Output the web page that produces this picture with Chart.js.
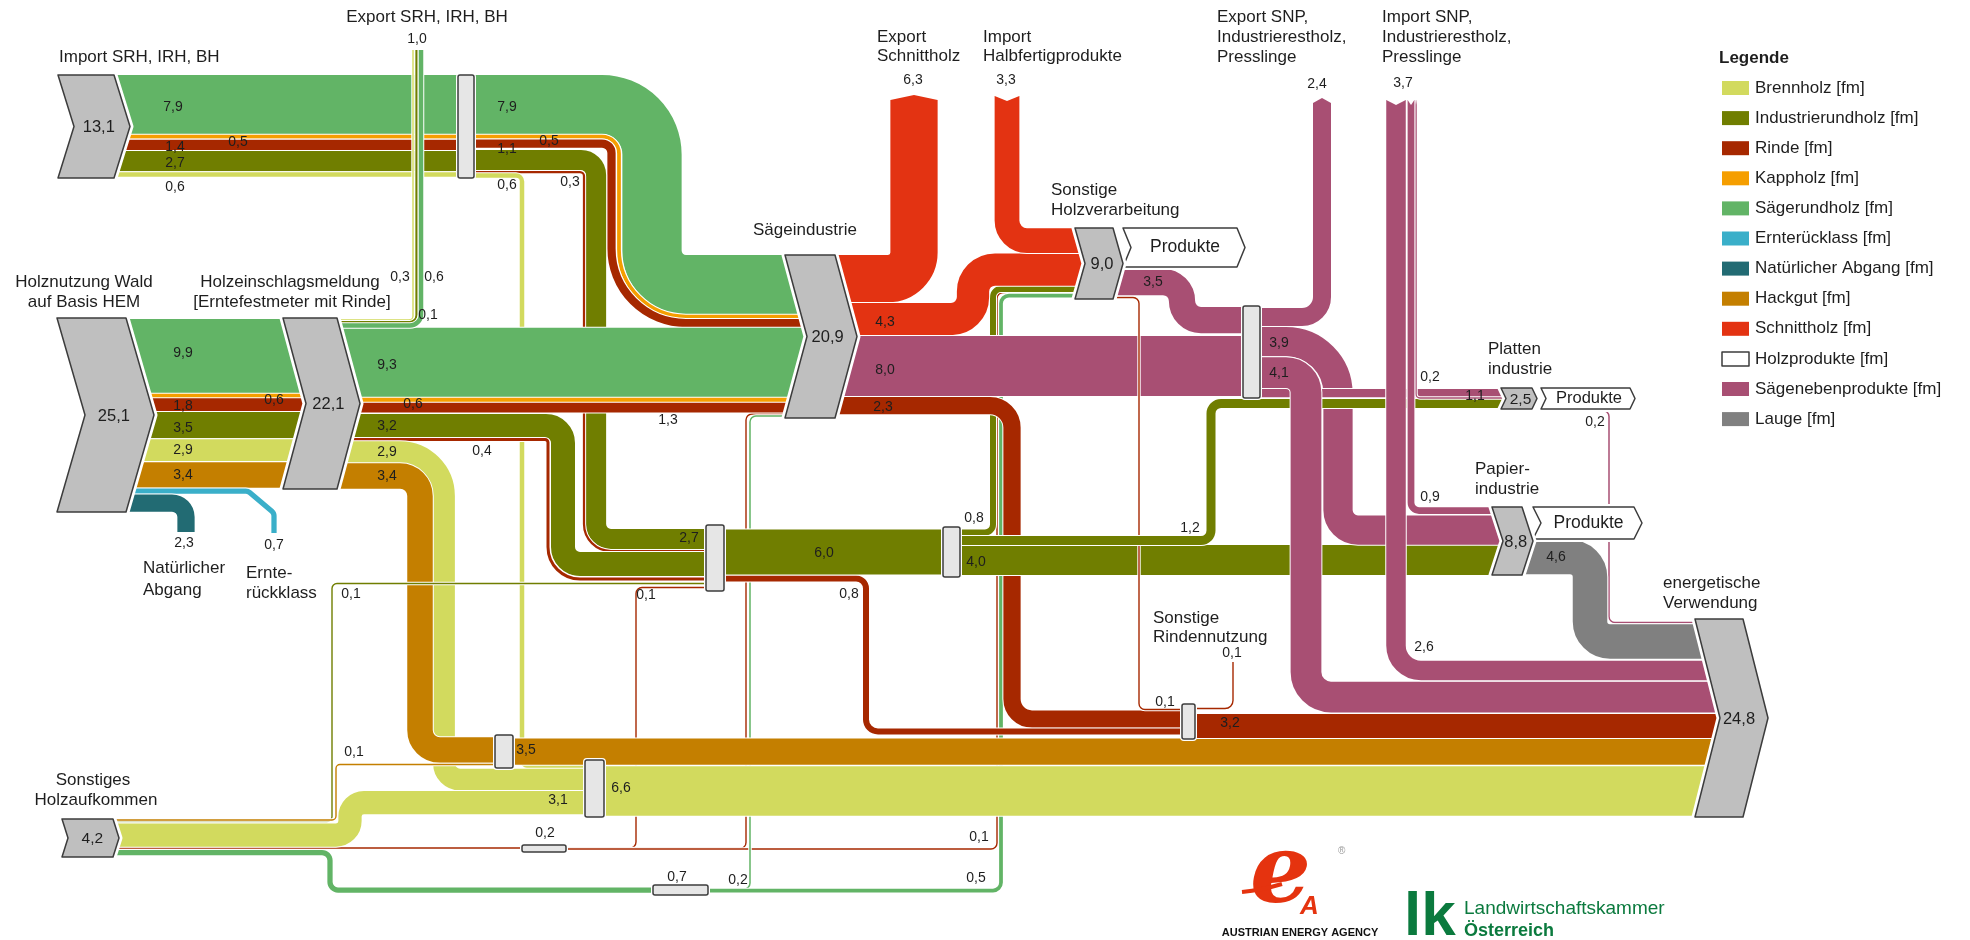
<!DOCTYPE html>
<html lang="de">
<head>
<meta charset="utf-8">
<title>Holzströme Österreich</title>
<script src="https://cdn.jsdelivr.net/npm/chart.js@4.4.1/dist/chart.umd.min.js"></script>
<style>
  html, body { margin: 0; padding: 0; background: #fff; }
  #wrap { position: relative; width: 1970px; height: 940px; }
</style>
</head>
<body>
<div id="wrap"><canvas id="holzfluss"></canvas></div>
<script>
// Legende: Sortimente und Farben
const categories = ['Brennholz [fm]', 'Industrierundholz [fm]', 'Rinde [fm]', 'Kappholz [fm]',
  'Sägerundholz [fm]', 'Ernterücklass [fm]', 'Natürlicher Abgang [fm]', 'Hackgut [fm]',
  'Schnittholz [fm]', 'Holzprodukte [fm]', 'Sägenebenprodukte [fm]', 'Lauge [fm]'];
const catColors = ['#D2DA5E', '#707E00', '#A62800', '#F59E00', '#62B466', '#3AAFC9',
  '#226B73', '#C47F00', '#E33312', '#FFFFFF', '#A84F73', '#808080'];

// Knoten (Mio. fm)
const nodeNames = ['Import SRH, IRH, BH', 'Holznutzung Wald', 'Holzeinschlagsmeldung', 'Sägeindustrie',
  'Sonstige Holzverarbeitung', 'Plattenindustrie', 'Papierindustrie', 'energetische Verwendung',
  'Sonstiges Holzaufkommen'];
const nodeValues = [13.1, 25.1, 22.1, 20.9, 9.0, 2.5, 8.8, 24.8, 4.2];

// Ströme, in Zeichenreihenfolge
const flowIds = [
  'so_rinde', 'so_rinde_a', 'so_rinde_b', 'so_rinde_c', 'so_saeg', 'so_saeg_a', 'so_saeg_b', 'ol_08',
  'sg_rinde', 'ol_r08',
  'imp_saeg1', 'imp_kapp1', 'imp_rinde1', 'imp_ir1', 'imp_bh1', 'imp_saeg2', 'imp_kapp2', 'imp_rinde2', 'imp_ir2', 'imp_rinde3', 'imp_bh2',
  'hn_saeg', 'hn_kapp', 'hn_rinde', 'hn_ir', 'hn_bh', 'hn_hg', 'hn_erl', 'hn_nat',
  'he_saeg', 'he_kapp', 'he_rinde', 'he_ir', 'he_rinde2', 'he_bh', 'he_hg',
  'so_ir', 'so_bh', 'so_hg',
  'ol_60', 'ol_40',
  'hg_out', 'bh_out', 'rinde_out', 'rn_out',
  'sg_exp', 'sg_sh', 'imp_hf', 'sg_snp', 'shv_rinde', 'shv_snp',
  'snp_exp', 'snp_39', 'ol_12', 'snp_pl', 'isnp_02', 'snp_41', 'isnp_09', 'isnp_26', 'pl_snp', 'pap_lauge',
  'exp_bh', 'exp_ir', 'exp_saeg'
];
const flowValues = [
  0.2, 0.1, 0.05, 0.1, 0.7, 0.2, 0.5, 0.8,
  2.3, 0.8,
  7.9, 0.5, 1.4, 2.7, 0.6, 7.9, 0.5, 1.1, 2.7, 0.3, 0.6,
  9.9, 0.6, 1.8, 3.5, 2.9, 3.4, 0.7, 2.3,
  9.3, 0.6, 1.3, 3.2, 0.4, 2.9, 3.4,
  0.1, 3.1, 0.1,
  6.0, 4.0,
  3.5, 6.6, 3.2, 0.1,
  6.3, 4.3, 3.3, 8.0, 0.1, 3.5,
  2.4, 3.9, 1.2, 1.1, 0.2, 4.1, 0.9, 2.6, 0.2, 4.6,
  0.1, 0.3, 0.6
];
// Index in categories
const flowCats = [
  2, 2, 2, 2, 4, 4, 4, 1,
  2, 2,
  4, 3, 2, 1, 0, 4, 3, 2, 1, 2, 0,
  4, 3, 2, 1, 0, 7, 5, 6,
  4, 3, 2, 1, 2, 0, 7,
  1, 0, 7,
  1, 1,
  7, 0, 2, 2,
  8, 8, 8, 10, 2, 10,
  10, 10, 1, 10, 10, 10, 10, 10, 10, 11,
  0, 1, 4
];

// ---- Layout (Koordinaten im 1970 x 940 Raster) ----
const K = 7.5; // Rastereinheiten je Mio. fm

const routes = {
  so_rinde:   { p: [[113, 848], [544, 848]], lab: [545, 833] },
  so_rinde_a: { p: [[544, 848], [636, 848], [636, 587.5], [715, 587.5]], r: [6, 6], lab: [646, 595] },
  so_rinde_b: { p: [[544, 848.5], [746, 848.5], [746, 414], [807, 414]], r: [6, 6] },
  so_rinde_c: { p: [[544, 849], [997, 849], [997, 292.5], [1085, 292.5]], r: [6, 6], lab: [979, 837] },
  so_saeg:    { p: [[113, 852.5], [330, 852.5], [330, 890], [680, 890]], r: [8, 8], lab: [677, 877] },
  so_saeg_a:  { p: [[680, 889], [750, 889], [750, 416], [807, 416]], r: [6, 6], lab: [738, 880] },
  so_saeg_b:  { p: [[680, 890.5], [1001, 890.5], [1001, 295.5], [1085, 295.5]], r: [8, 8], lab: [976, 878] },
  ol_08:      { p: [[952, 532.5], [993, 532.5], [993, 289], [1085, 289]], r: [8, 8], lab: [974, 518] },

  sg_rinde:   { p: [[835, 405.6], [1012, 405.6], [1012, 719], [1188, 719]], r: [22, 20], lab: [883, 407] },
  ol_r08:     { p: [[715, 578.5], [866, 578.5], [866, 731.5], [1188, 731.5]], r: [10, 12], lab: [849, 594] },

  imp_saeg1:  { p: [[114, 104.6], [466, 104.6]], lab: [173, 107] },
  imp_kapp1:  { p: [[114, 136.5], [466, 136.5]], lab: [238, 142] },
  imp_rinde1: { p: [[114, 145], [466, 145]], lab: [175, 147] },
  imp_ir1:    { p: [[114, 161], [466, 161]], lab: [175, 163] },
  imp_bh1:    { p: [[114, 174.5], [466, 174.5]], lab: [175, 187] },
  imp_saeg2:  { p: [[466, 104.6], [652, 104.6], [652, 284.6], [807, 284.6]], r: [50, 34], lab: [507, 107] },
  imp_kapp2:  { p: [[466, 136.5], [619, 136.5], [619, 316.5], [807, 316.5]], r: [17, 67], lab: [549, 141] },
  imp_rinde2: { p: [[466, 143.5], [611.5, 143.5], [611.5, 323], [807, 323]], r: [9.5, 74.5], lab: [507, 149] },
  imp_ir2:    { p: [[466, 160], [596, 160], [596, 539], [715, 539]], r: [15, 15], lab: [689, 538] },
  imp_rinde3: { p: [[466, 172], [584, 172], [584, 551], [715, 551]], r: [4, 27], lab: [570, 182] },
  imp_bh2:    { p: [[466, 175.5], [522, 175.5], [522, 766], [594, 766]], r: [6, 6], lab: [507, 185] },

  hn_saeg:    { p: [[126, 356], [306, 356]], lab: [183, 353] },
  hn_kapp:    { p: [[126, 396], [306, 396]], lab: [274, 400] },
  hn_rinde:   { p: [[126, 405], [306, 405]], lab: [183, 406] },
  hn_ir:      { p: [[126, 425], [306, 425]], lab: [183, 428] },
  hn_bh:      { p: [[126, 450], [306, 450]], lab: [183, 450] },
  hn_hg:      { p: [[126, 475], [306, 475]], lab: [183, 475] },
  hn_erl:     { p: [[126, 491], [248, 491], [274, 513], [274, 533]], r: [6, 6], lab: [274, 545] },
  hn_nat:     { p: [[126, 503], [186, 503], [186, 532]], r: [14], lab: [184, 543] },

  he_saeg:    { p: [[337, 362.6], [807, 362.6]], lab: [387, 365] },
  he_kapp:    { p: [[337, 400], [807, 400]], lab: [413, 404] },
  he_rinde:   { p: [[337, 407.5], [807, 407.5]], lab: [668, 420] },
  he_ir:      { p: [[337, 426], [563, 426], [563, 564], [715, 564]], r: [17, 17], lab: [387, 426] },
  he_rinde2:  { p: [[337, 439.5], [548, 439.5], [548, 579], [715, 579]], r: [3, 32], lab: [482, 451] },
  he_bh:      { p: [[337, 452], [444, 452], [444, 779.5], [594, 779.5]], r: [44, 16], lab: [387, 452] },
  he_hg:      { p: [[337, 476], [420, 476], [420, 750], [505, 750]], r: [20, 20], lab: [387, 476] },

  so_ir:      { p: [[113, 821.5], [332, 821.5], [332, 583.5], [715, 583.5]], r: [5, 5], lab: [351, 594] },
  so_bh:      { p: [[113, 835], [350, 835], [350, 802.5], [594, 802.5]], r: [14, 14], lab: [558, 800] },
  so_hg:      { p: [[113, 820], [336, 820], [336, 764.5], [505, 764.5]], r: [4, 4], lab: [354, 752] },

  ol_60:      { p: [[715, 552], [952, 552]], lab: [824, 553] },
  ol_40:      { p: [[952, 560], [1503, 560]], lab: [976, 562] },

  hg_out:     { p: [[504, 751.5], [1720, 751.5]], lab: [526, 750] },
  bh_out:     { p: [[594, 791], [1720, 791]], lab: [621, 788] },
  rinde_out:  { p: [[1188, 726], [1720, 726]], lab: [1230, 723] },
  rn_out:     { p: [[1188, 708.5], [1233, 708.5], [1233, 662]], r: [8], lab: [1232, 653] },

  sg_exp:     { p: [[835, 278.6], [914, 278.6], [914, 100]], r: [26], cap: 'out', lab: [913, 80] },
  sg_sh:      { p: [[835, 319], [973, 319], [973, 269.5], [1085, 269.5]], r: [22, 22], lab: [885, 322] },
  imp_hf:     { p: [[1007, 96], [1007, 240.5], [1085, 240.5]], r: [20], cap: 'in', lab: [1006, 80] },
  sg_snp:     { p: [[835, 366], [1251, 366]], lab: [885, 370] },
  shv_rinde:  { p: [[1113, 297.5], [1139, 297.5], [1139, 709.5], [1188, 709.5]], r: [6, 6], lab: [1165, 702] },
  shv_snp:    { p: [[1113, 282], [1182, 282], [1182, 320], [1251, 320]], r: [19, 19], lab: [1153, 282] },

  snp_exp:    { p: [[1251, 317], [1322, 317], [1322, 103]], r: [20], cap: 'out', lab: [1317, 84] },
  snp_39:     { p: [[1251, 341.5], [1338, 341.5], [1338, 530], [1503, 530]], r: [52, 20], lab: [1279, 343] },
  ol_12:      { p: [[952, 540.5], [1211, 540.5], [1211, 403.5], [1506, 403.5]], r: [10, 10], lab: [1190, 528] },
  snp_pl:     { p: [[1251, 393], [1506, 393]], lab: [1475, 396] },
  isnp_02:    { p: [[1416, 100], [1416, 398], [1506, 398]], r: [4], cap: 'in', lab: [1430, 377] },
  snp_41:     { p: [[1251, 372.5], [1306, 372.5], [1306, 697], [1720, 697]], r: [20, 25], lab: [1279, 373] },
  isnp_09:    { p: [[1411, 100], [1411, 510.5], [1503, 510.5]], r: [8], cap: 'in', lab: [1430, 497] },
  isnp_26:    { p: [[1396, 100], [1396, 670.5], [1720, 670.5]], r: [25], cap: 'in', lab: [1424, 647] },
  pl_snp:     { p: [[1545, 410.5], [1609, 410.5], [1609, 622.5], [1720, 622.5]], r: [6, 6], lab: [1595, 422] },
  pap_lauge:  { p: [[1522, 557], [1590, 557], [1590, 641.5], [1720, 641.5]], r: [20, 20], lab: [1556, 557] },

  exp_bh:     { p: [[337, 320], [413, 320], [413, 50]], r: [4], lab: [428, 315] },
  exp_ir:     { p: [[337, 322.2], [416.5, 322.2], [416.5, 50]], r: [7], lab: [400, 277] },
  exp_saeg:   { p: [[337, 325.4], [421, 325.4], [421, 50]], r: [11], lab: [434, 277] }
};

// Knotenform: links, Spitze, oben, unten, Pfeiltiefe
const nodeBoxes = [
  [58, 130, 75, 178, 16],
  [57, 154, 318, 512, 28],
  [283, 360, 318, 489, 23],
  [785, 857, 255, 418, 22],
  [1075, 1123, 228, 299, 10],
  [1501, 1537, 388, 409, 5],
  [1492, 1533, 507, 575, 11],
  [1695, 1768, 619, 817, 25],
  [62, 119, 819, 857, 6]
];
const productBoxes = [[1123, 1245, 228, 267, 8], [1541, 1635, 388, 409, 5], [1533, 1642, 507, 539, 8]];
const junctions = [[458, 75, 16, 103], [706, 525, 18, 66], [943, 527, 17, 50], [1243, 306, 17, 92],
  [1182, 704, 13, 35], [495, 735, 18, 33], [585, 760, 19, 57], [522, 845, 44, 7], [653, 885, 55, 10]];

const titles = [
  ['Export SRH, IRH, BH', 427, 17, 'center'], ['Import SRH, IRH, BH', 59, 57],
  ['Holznutzung Wald', 84, 282, 'center'], ['auf Basis HEM', 84, 302, 'center'],
  ['Holzeinschlagsmeldung', 290, 282, 'center'], ['[Erntefestmeter mit Rinde]', 292, 302, 'center'],
  ['Sägeindustrie', 753, 230],
  ['Export', 877, 37], ['Schnittholz', 877, 56],
  ['Import', 983, 37], ['Halbfertigprodukte', 983, 56],
  ['Sonstige', 1051, 190], ['Holzverarbeitung', 1051, 210],
  ['Export SNP,', 1217, 17], ['Industrierestholz,', 1217, 37], ['Presslinge', 1217, 57],
  ['Import SNP,', 1382, 17], ['Industrierestholz,', 1382, 37], ['Presslinge', 1382, 57],
  ['Platten', 1488, 349], ['industrie', 1488, 369],
  ['Papier-', 1475, 469], ['industrie', 1475, 489],
  ['energetische', 1663, 583], ['Verwendung', 1663, 603],
  ['Sonstige', 1153, 618], ['Rindennutzung', 1153, 637],
  ['Sonstiges', 93, 780, 'center'], ['Holzaufkommen', 96, 800, 'center'],
  ['Natürlicher', 143, 568], ['Abgang', 143, 590],
  ['Ernte-', 246, 573], ['rückklass', 246, 593]
];

const FONT = '"Liberation Sans", Arial, sans-serif';
const fmt = v => v.toFixed(1).replace('.', ',');
const valueOf = id => flowValues[flowIds.indexOf(id)];

function roundedPath(ctx, pts, radii) {
  const n = pts.length;
  ctx.beginPath();
  ctx.moveTo(pts[0].x, pts[0].y);
  for (let i = 1; i < n - 1; i++) {
    const a = pts[i - 1], b = pts[i], c = pts[i + 1];
    const l1 = Math.hypot(b.x - a.x, b.y - a.y) * (i === 1 ? 1 : 0.5);
    const l2 = Math.hypot(c.x - b.x, c.y - b.y) * (i === n - 2 ? 1 : 0.5);
    ctx.arcTo(b.x, b.y, c.x, c.y, Math.max(0.1, Math.min(radii[i - 1], l1, l2)));
  }
  ctx.lineTo(pts[n - 1].x, pts[n - 1].y);
}

const sankeyPlugin = {
  id: 'holzSankey',
  afterDraw(chart) {
    const ctx = chart.ctx;
    const sx = chart.scales.x, sy = chart.scales.y;
    const X = v => sx.getPixelForValue(v);
    const Y = v => sy.getPixelForValue(v);
    const L = v => Math.abs(sy.getPixelForValue(v) - sy.getPixelForValue(0));
    const poly = (arr) => { ctx.beginPath(); arr.forEach(([a, b], i) => i ? ctx.lineTo(X(a), Y(b)) : ctx.moveTo(X(a), Y(b))); ctx.closePath(); };
    const chevron = ([l, t, top, bot, d]) => {
      const m = (top + bot) / 2;
      poly([[l, top], [t - d, top], [t, m], [t - d, bot], [l, bot], [l + d, m]]);
    };
    const text = (s, x, y, size, align, weight) => {
      ctx.font = (weight || 'normal') + ' ' + size + 'px ' + FONT;
      ctx.textAlign = align || 'left';
      ctx.textBaseline = 'middle';
      ctx.fillStyle = '#1e1e1e';
      ctx.fillText(s, X(x), Y(y));
    };

    ctx.save();
    ctx.lineCap = 'butt';
    ctx.lineJoin = 'round';

    // Ströme
    flowIds.forEach((id, i) => {
      const f = routes[id];
      const w = Math.max(1.4, L(flowValues[i] * K));
      const pts = f.p.map(([a, b]) => ({ x: X(a), y: Y(b) }));
      const radii = (f.r || pts.map(() => 0)).map(r => r ? L(r) : w / 2 + 5);
      ctx.strokeStyle = '#ffffff';
      ctx.lineWidth = w + 2;
      roundedPath(ctx, pts, radii); ctx.stroke();
      ctx.strokeStyle = catColors[flowCats[i]];
      ctx.lineWidth = w;
      roundedPath(ctx, pts, radii); ctx.stroke();
      if (f.cap) {
        const [p, q] = f.cap === 'out' ? [pts[pts.length - 1], pts[pts.length - 2]] : [pts[0], pts[1]];
        let dx = p.x - q.x, dy = p.y - q.y; const len = Math.hypot(dx, dy); dx /= len; dy /= len;
        const nx = -dy * w / 2, ny = dx * w / 2, k = f.cap === 'out' ? 5 : -5;
        ctx.beginPath();
        ctx.moveTo(p.x + nx, p.y + ny); ctx.lineTo(p.x + dx * k, p.y + dy * k); ctx.lineTo(p.x - nx, p.y - ny);
        ctx.closePath();
        ctx.fillStyle = f.cap === 'out' ? catColors[flowCats[i]] : '#ffffff';
        ctx.fill();
      }
    });

    // Verteilerkästchen
    junctions.forEach(([x, y, w, h]) => {
      ctx.beginPath();
      ctx.roundRect(X(x), Y(y), X(x + w) - X(x), Y(y + h) - Y(y), 2);
      ctx.strokeStyle = '#fff'; ctx.lineWidth = 4; ctx.stroke();
      ctx.fillStyle = '#E6E6E6'; ctx.fill();
      ctx.strokeStyle = '#3c3c3c'; ctx.lineWidth = 1.5; ctx.stroke();
    });

    // Produkte-Pfeile und Knoten
    productBoxes.forEach(b => {
      chevron(b);
      ctx.strokeStyle = '#fff'; ctx.lineWidth = 6; ctx.stroke();
      ctx.fillStyle = '#fff'; ctx.fill();
      ctx.strokeStyle = '#3c3c3c'; ctx.lineWidth = 1.5; ctx.stroke();
      text('Produkte', (b[0] + b[1]) / 2 + 1, (b[2] + b[3]) / 2, b[3] - b[2] < 30 ? 16.5 : 17.5, 'center');
    });
    nodeBoxes.forEach((b, i) => {
      chevron(b);
      ctx.strokeStyle = '#fff'; ctx.lineWidth = 7; ctx.stroke();
      ctx.fillStyle = '#BFBFBF'; ctx.fill();
      ctx.strokeStyle = '#3c3c3c'; ctx.lineWidth = 1.5; ctx.stroke();
      text(fmt(nodeValues[i]), (b[0] + b[1]) / 2 + 0.3 * b[4], (b[2] + b[3]) / 2 + 1, b[3] - b[2] < 40 ? 15.5 : 16.5, 'center');
    });

    // Zahlen an den Strömen
    flowIds.forEach((id, i) => {
      const f = routes[id];
      if (f.lab) text(fmt(flowValues[i]), f.lab[0], f.lab[1], 14, 'center');
    });
    text(fmt(valueOf('exp_bh') + valueOf('exp_ir') + valueOf('exp_saeg')), 417, 39, 14, 'center');
    text(fmt(valueOf('isnp_26') + valueOf('isnp_09') + valueOf('isnp_02')), 1403, 83, 14, 'center');

    // Beschriftungen
    titles.forEach(([s, x, y, a]) => text(s, x, y, 17, a));

    // Legende
    text('Legende', 1719, 58, 17, 'left', 'bold');
    categories.forEach((c, i) => {
      const yc = 88 + i * 30.1;
      ctx.fillStyle = catColors[i];
      ctx.fillRect(X(1722), Y(yc - 7), X(1749) - X(1722), Y(yc + 7) - Y(yc - 7));
      if (catColors[i] === '#FFFFFF') {
        ctx.strokeStyle = '#3c3c3c'; ctx.lineWidth = 1.5;
        ctx.strokeRect(X(1722), Y(yc - 7), X(1749) - X(1722), Y(yc + 7) - Y(yc - 7));
      }
      text(c, 1755, yc, 17, 'left');
    });

    // Logos
    ctx.fillStyle = '#E5330F';
    ctx.textBaseline = 'alphabetic';
    ctx.textAlign = 'left';
    ctx.font = 'italic bold 96px "DejaVu Serif", serif';
    ctx.fillText('e', X(1250), Y(902));
    ctx.font = 'italic bold 26px ' + FONT;
    ctx.fillText('A', X(1300), Y(914));
    ctx.strokeStyle = '#E5330F'; ctx.lineWidth = 4;
    ctx.beginPath(); ctx.moveTo(X(1242), Y(892)); ctx.quadraticCurveTo(X(1262), Y(890), X(1282), Y(884)); ctx.stroke();
    ctx.fillStyle = '#999'; ctx.font = '10px ' + FONT; ctx.fillText('®', X(1338), Y(854));
    ctx.fillStyle = '#111'; ctx.font = 'bold 11px ' + FONT; ctx.textAlign = 'center';
    ctx.fillText('AUSTRIAN ENERGY AGENCY', X(1300), Y(936));
    ctx.fillStyle = '#0B7A3E'; ctx.textAlign = 'left';
    ctx.font = 'bold 62px ' + FONT; ctx.fillText('lk', X(1404), Y(935));
    ctx.font = '19px ' + FONT; ctx.fillText('Landwirtschaftskammer', X(1464), Y(914));
    ctx.font = 'bold 18px ' + FONT; ctx.fillText('Österreich', X(1464), Y(936));
    ctx.restore();
  }
};

new Chart(document.getElementById('holzfluss').getContext('2d'), {
  type: 'scatter',
  data: { datasets: [{ data: [] }] },
  options: {
    responsive: true,
    maintainAspectRatio: false,
    animation: false,
    layout: { padding: 0 },
    plugins: { legend: { display: false }, tooltip: { enabled: false } },
    scales: {
      x: { type: 'linear', min: 0, max: 1970, display: false },
      y: { type: 'linear', min: 0, max: 940, reverse: true, display: false }
    }
  },
  plugins: [sankeyPlugin]
});
</script>
</body>
</html>
